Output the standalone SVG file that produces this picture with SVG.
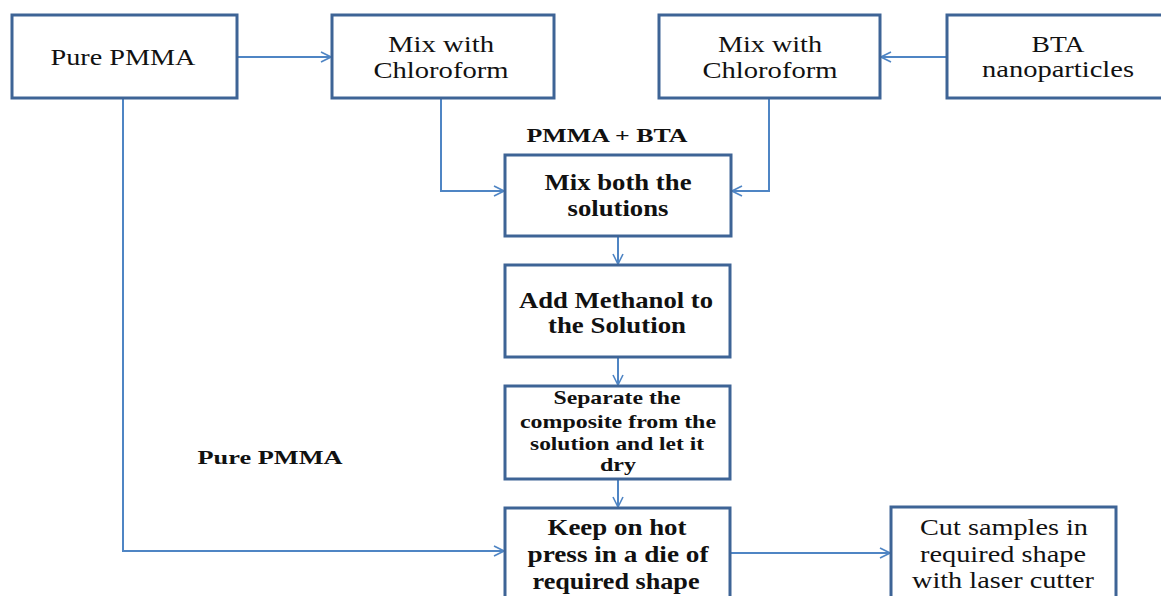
<svg xmlns="http://www.w3.org/2000/svg" width="1161" height="596" viewBox="0 0 1161 596">
<style>
.box{fill:#fff;stroke:#3e6496;stroke-width:3}
.c{fill:none;stroke:#4f85c4;stroke-width:2}
text{font-family:"Liberation Serif","Times New Roman",serif;fill:#111;text-anchor:middle}
.n{font-size:23px}
.b{font-size:23px;font-weight:bold}
.s{font-size:19px;font-weight:bold}
</style>
<defs>
<marker id="ah" viewBox="0 0 12 12" refX="11" refY="6" markerWidth="12" markerHeight="12" markerUnits="userSpaceOnUse" orient="auto">
<path d="M1,1 L11,6 L1,11" fill="none" stroke="#4f85c4" stroke-width="1.6"/>
</marker>
</defs>
<rect width="1161" height="596" fill="#fff"/>
<g id="connectors">
<path class="c" d="M237,57 H331" marker-end="url(#ah)"/>
<path class="c" d="M947,57 H881" marker-end="url(#ah)"/>
<path class="c" d="M441,98 V191 H504" marker-end="url(#ah)"/>
<path class="c" d="M769,98 V191 H732" marker-end="url(#ah)"/>
<path class="c" d="M618,236 V264" marker-end="url(#ah)"/>
<path class="c" d="M618,357 V385" marker-end="url(#ah)"/>
<path class="c" d="M618,479 V507" marker-end="url(#ah)"/>
<path class="c" d="M123,98 V551 H504" marker-end="url(#ah)"/>
<path class="c" d="M731,553 H890" marker-end="url(#ah)"/>
</g>
<g id="n-pure">
<rect class="box" x="12" y="15" width="225" height="83"/>
<text class="n" x="123" y="65" textLength="145" lengthAdjust="spacingAndGlyphs">Pure PMMA</text>
</g>
<g id="n-mixL">
<rect class="box" x="332" y="15" width="222" height="83"/>
<text class="n" x="441" y="52" textLength="106" lengthAdjust="spacingAndGlyphs">Mix with</text>
<text class="n" x="441" y="78" textLength="135" lengthAdjust="spacingAndGlyphs">Chloroform</text>
</g>
<g id="n-mixR">
<rect class="box" x="659" y="15" width="221" height="83"/>
<text class="n" x="770" y="52" textLength="104" lengthAdjust="spacingAndGlyphs">Mix with</text>
<text class="n" x="770" y="78" textLength="135" lengthAdjust="spacingAndGlyphs">Chloroform</text>
</g>
<g id="n-bta">
<rect class="box" x="947" y="15" width="222" height="83"/>
<text class="n" x="1058" y="52" textLength="53" lengthAdjust="spacingAndGlyphs">BTA</text>
<text class="n" x="1058" y="77" textLength="152" lengthAdjust="spacingAndGlyphs">nanoparticles</text>
</g>
<g id="l-pmmabta">
<text class="s" x="607" y="142" textLength="161" lengthAdjust="spacingAndGlyphs">PMMA + BTA</text>
</g>
<g id="n-mixboth">
<rect class="box" x="505" y="155" width="226" height="81"/>
<text class="b" x="618" y="190" textLength="147" lengthAdjust="spacingAndGlyphs">Mix both the</text>
<text class="b" x="618" y="216" textLength="101" lengthAdjust="spacingAndGlyphs">solutions</text>
</g>
<g id="n-methanol">
<rect class="box" x="505" y="265" width="225" height="92"/>
<text class="b" x="616" y="308" textLength="194" lengthAdjust="spacingAndGlyphs">Add Methanol to</text>
<text class="b" x="617" y="333" textLength="138" lengthAdjust="spacingAndGlyphs">the Solution</text>
</g>
<g id="n-separate">
<rect class="box" x="505" y="386" width="225" height="93"/>
<text class="s" x="617" y="404" textLength="127" lengthAdjust="spacingAndGlyphs">Separate the</text>
<text class="s" x="618" y="428" textLength="196" lengthAdjust="spacingAndGlyphs">composite from the</text>
<text class="s" x="617" y="450" textLength="174" lengthAdjust="spacingAndGlyphs">solution and let it</text>
<text class="s" x="618" y="471" textLength="36" lengthAdjust="spacingAndGlyphs">dry</text>
</g>
<g id="n-hotpress">
<rect class="box" x="505" y="508" width="225" height="95"/>
<text class="b" x="617" y="535" textLength="139" lengthAdjust="spacingAndGlyphs">Keep on hot</text>
<text class="b" x="618" y="562" textLength="181" lengthAdjust="spacingAndGlyphs">press in a die of</text>
<text class="b" x="616" y="589" textLength="167" lengthAdjust="spacingAndGlyphs">required shape</text>
</g>
<g id="n-cut">
<rect class="box" x="891" y="507" width="225" height="96"/>
<text class="n" x="1004" y="535" textLength="168" lengthAdjust="spacingAndGlyphs">Cut samples  in</text>
<text class="n" x="1003" y="562" textLength="166" lengthAdjust="spacingAndGlyphs">required shape</text>
<text class="n" x="1003" y="588" textLength="182" lengthAdjust="spacingAndGlyphs">with laser  cutter</text>
</g>
<g id="l-pure">
<text class="s" x="270" y="464" textLength="145" lengthAdjust="spacingAndGlyphs">Pure PMMA</text>
</g>
</svg>
